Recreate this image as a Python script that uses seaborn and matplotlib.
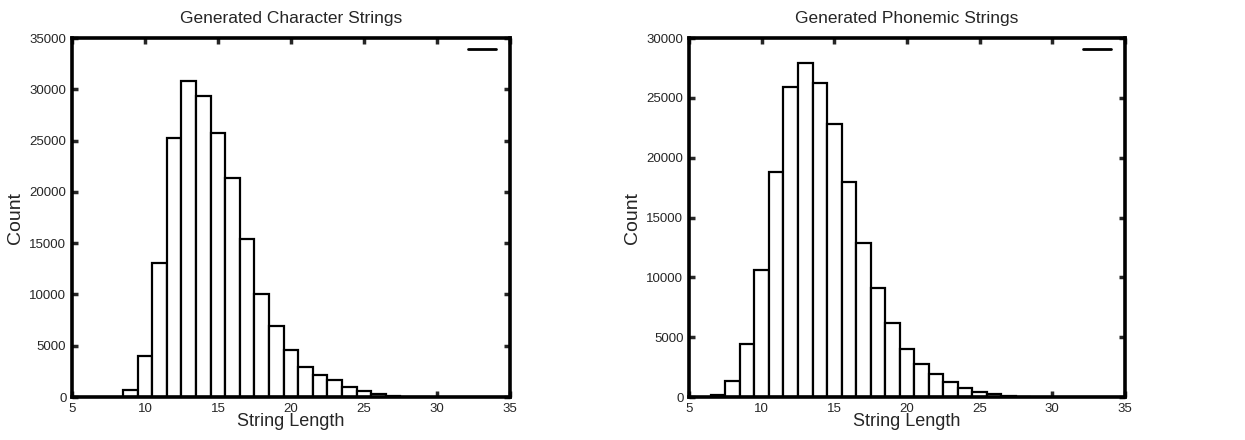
import matplotlib
matplotlib.use("Agg")
import matplotlib.pyplot as plt
from matplotlib.lines import Line2D
import numpy as np
import pandas as pd
import seaborn as sns

sns.set_style("ticks")
plt.rcParams['font.family'] = ['Liberation Sans', 'DejaVu Sans']

# string length -> count
char_lengths = [9, 10, 11, 12, 13, 14, 15, 16, 17, 18, 19, 20, 21, 22, 23, 24, 25, 26, 27, 28, 29]
char_counts = [700, 4000, 13100, 25300, 30800, 29300, 25700, 21400, 15400, 10000, 6950,
               4600, 2950, 2100, 1650, 1000, 550, 300, 130, 40, 15]

phon_lengths = [7, 8, 9, 10, 11, 12, 13, 14, 15, 16, 17, 18, 19, 20, 21, 22, 23, 24, 25, 26, 27, 28]
phon_counts = [200, 1350, 4400, 10600, 18800, 25900, 27900, 26200, 22800, 18000, 12900,
               9150, 6150, 4000, 2800, 1900, 1250, 750, 420, 220, 100, 40]

titles = ["Generated Character Strings", "Generated Phonemic Strings"]
ylims = [35000, 30000]

fig = plt.figure(figsize=(12.45, 4.4), dpi=100)
ax1 = fig.add_axes([0.0578, 0.0977, 0.3518, 0.8159])
ax2 = fig.add_axes([0.5534, 0.0977, 0.3502, 0.8159])

panels = [(ax1, char_lengths, char_counts), (ax2, phon_lengths, phon_counts)]
for i, (ax, xs, cs) in enumerate(panels):
    df = pd.DataFrame({"length": xs, "count": cs})
    sns.histplot(data=df, x="length", weights="count", discrete=True, ax=ax,
                 color="white", edgecolor="black", linewidth=1.6, alpha=1)
    ax.set_xlim(5, 35)
    ax.set_ylim(0, ylims[i])
    ax.set_xticks(np.arange(5, 36, 5))
    ax.set_yticks(np.arange(0, ylims[i] + 1, 5000))
    ax.set_title(titles[i], fontsize=12.5, pad=11)
    ax.set_xlabel("String Length", fontsize=13, labelpad=-1)
    ax.set_ylabel("Count", fontsize=14, labelpad=4)
    ax.tick_params(direction="in", length=4, width=2.5, labelsize=9.5,
                   top=True, right=True, pad=4)
    for s in ax.spines.values():
        s.set_visible(True)
        s.set_linewidth(2.6)
        s.set_color("black")
    ax.legend(handles=[Line2D([], [], color="black", lw=2)], labels=[""],
              loc="upper right", bbox_to_anchor=(0.984, 1.005), frameon=False,
              handlelength=2.0, handletextpad=0, borderaxespad=0.3, borderpad=0.2)

fig.savefig("out.png", dpi=100)
